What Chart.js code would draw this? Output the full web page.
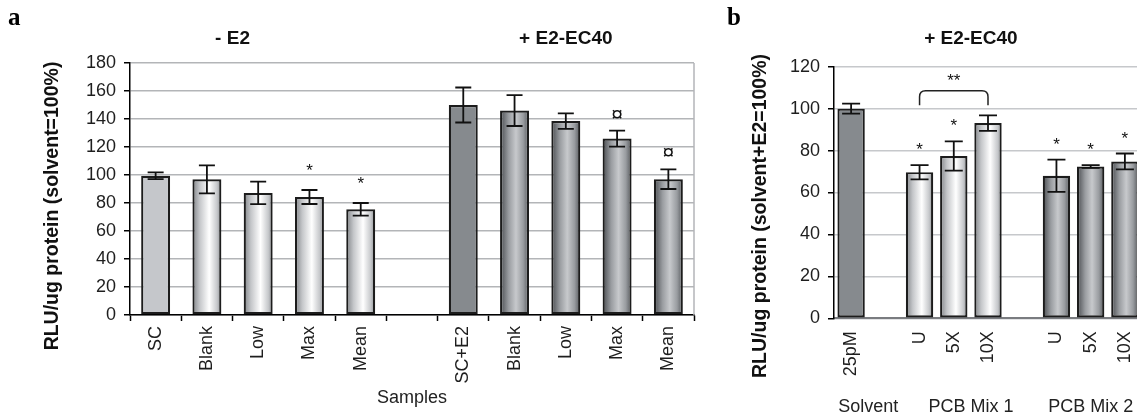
<!DOCTYPE html>
<html><head><meta charset="utf-8">
<script src="https://cdn.jsdelivr.net/npm/chart.js@4.4.1/dist/chart.umd.min.js"></script>
<style>
html,body{margin:0;padding:0;width:1137px;height:418px;overflow:hidden;background:#fff;}
#wa{position:absolute;left:0;top:0;width:720px;height:418px;}
#wb{position:absolute;left:700px;top:0;width:450px;height:418px;}
</style></head><body>
<div id="wa"><canvas id="ca"></canvas></div>
<div id="wb"><canvas id="cb"></canvas></div>
<script>
// ---------- Panel a data ----------
const catsA = ['SC','Blank','Low','Max','Mean','','SC+E2','Blank','Low','Max','Mean'];
const valsA = [99.5, 96.9, 87.2, 84.3, 75.5, null, 150, 146, 138.5, 126, 97];
const errA  = [2.4, 10, 8, 5, 4.5, null, 12.5, 11, 5.5, 5.7, 7];
const sigA  = ['', '', '', '*', '*', '', '', '', '', '¤', '¤'];
const yTicksA = [0, 20, 40, 60, 80, 100, 120, 140, 160, 180];
const titlesA = [{text:'- E2', from:0, to:3}, {text:'+ E2-EC40', from:6, to:10}];

// ---------- Panel b data ----------
const catsB = ['25pM','','U','5X','10X','','U','5X','10X'];
const valsB = [100, null, 69.7, 77.4, 93.1, null, 68, 72.4, 74.8];
const errB  = [2.4, null, 3.4, 7, 3.7, null, 7.7, 0.7, 3.8];
const sigB  = ['', '', '*', '*', '', '', '*', '*', '*'];
const yTicksB = [0, 20, 40, 60, 80, 100, 120];
const titlesB = [{text:'+ E2-EC40', from:2, to:5}];
const groupsB = [{text:'Solvent', from:0, to:1}, {text:'PCB Mix 1', from:2, to:5}, {text:'PCB Mix 2', from:6, to:8}];
const bracketB = {from:2, to:4, low:101.6, high:108.5, text:'**'};

const FONT = "'Liberation Sans', Arial, Helvetica, sans-serif";

function fillFor(kind){
  return (ctx) => {
    const chart = ctx.chart, area = chart.chartArea;
    const k = kind(ctx.dataIndex);
    if (k === 'plainLight') return '#c5c7cb';
    if (k === 'plainDark') return '#868a8e';
    if (!area) return '#aaa';
    const xs = chart.scales.x;
    const x = xs.getPixelForValue(ctx.dataIndex);
    const w = xs.width / chart.data.labels.length * ctx.dataset.barPercentage;
    const g = chart.ctx.createLinearGradient(x - w/2, 0, x + w/2, 0);
    if (k === 'light') {
      g.addColorStop(0, '#808387'); g.addColorStop(0.25, '#c4c6c9');
      g.addColorStop(0.58, '#ffffff'); g.addColorStop(0.85, '#c6c8cb'); g.addColorStop(1, '#8a8d91');
    } else {
      g.addColorStop(0, '#484b4f'); g.addColorStop(0.3, '#9a9da1');
      g.addColorStop(0.55, '#c7c9cc'); g.addColorStop(0.8, '#999ca0'); g.addColorStop(1, '#54575b');
    }
    return g;
  };
}

function centerText(c, text, x, cy, font, color){
  c.save(); c.font = font; c.fillStyle = color || '#111';
  c.textAlign = 'center'; c.textBaseline = 'alphabetic';
  const m = c.measureText(text);
  c.fillText(text, x, cy + (m.actualBoundingBoxAscent - m.actualBoundingBoxDescent)/2);
  c.restore();
}

const extras = {
  id: 'extras',
  beforeDatasetsDraw(chart, args, o){
    const a = chart.chartArea, c = chart.ctx;
    if (o.rightBorder){
      c.save(); c.strokeStyle = o.rightBorder; c.lineWidth = 1.5;
      c.beginPath(); c.moveTo(a.right, a.top); c.lineTo(a.right, a.bottom); c.stroke(); c.restore();
    }
  },
  afterDatasetsDraw(chart, args, o){
    const c = chart.ctx, xs = chart.scales.x, ys = chart.scales.y, a = chart.chartArea;
    const meta = chart.getDatasetMeta(0);
    const vals = chart.data.datasets[0].data;
    // error bars
    c.save(); c.strokeStyle = '#111'; c.lineWidth = o.errWidth;
    vals.forEach((v, i) => {
      const e = o.errors[i]; if (v == null || e == null) return;
      const x = meta.data[i].x;
      const yt = ys.getPixelForValue(v + e), yb = ys.getPixelForValue(v - e);
      c.beginPath();
      c.moveTo(x, yt); c.lineTo(x, yb);
      c.moveTo(x - o.cap, yt); c.lineTo(x + o.cap, yt);
      c.moveTo(x - o.cap, yb); c.lineTo(x + o.cap, yb);
      c.stroke();
    });
    c.restore();
    // significance marks
    vals.forEach((v, i) => {
      const s = o.sig[i]; if (!s || v == null) return;
      const x = meta.data[i].x;
      const yt = ys.getPixelForValue(v + o.errors[i]);
      if (s === '¤') centerText(c, s, x, yt - o.gapCur, "21px " + FONT, '#111');
      else centerText(c, s, x, yt - o.gapStar, "17px " + FONT, '#111');
    });
    // bracket
    if (o.bracket){
      const b = o.bracket;
      const x1 = xs.getPixelForValue(b.from), x2 = xs.getPixelForValue(b.to);
      const yl = ys.getPixelForValue(b.low), yh = ys.getPixelForValue(b.high);
      const r = 6;
      c.save(); c.strokeStyle = '#222'; c.lineWidth = 1.5;
      c.beginPath(); c.moveTo(x1, yl); c.lineTo(x1, yh + r);
      c.quadraticCurveTo(x1, yh, x1 + r, yh); c.lineTo(x2 - r, yh);
      c.quadraticCurveTo(x2, yh, x2, yh + r); c.lineTo(x2, yl); c.stroke(); c.restore();
      centerText(c, b.text, (x1 + x2)/2, yh - 14, "17px " + FONT, '#111');
    }
    // titles
    o.titles.forEach(t => {
      const x = (xs.getPixelForValue(t.from) + xs.getPixelForValue(t.to))/2;
      centerText(c, t.text, x, o.titleY, "bold 19px " + FONT, '#111');
    });
    // group labels
    (o.groups || []).forEach(t => {
      const x = (xs.getPixelForValue(t.from) + xs.getPixelForValue(t.to))/2;
      centerText(c, t.text, x, o.groupY, "18px " + FONT, '#222');
    });
    if (o.xTitle) centerText(c, o.xTitle, (a.left + a.right)/2, o.xTitleY, "18px " + FONT, '#222');
    // y title
    c.save(); c.translate(o.yTitleX, o.yTitleY); c.rotate(-Math.PI/2);
    centerText(c, o.yTitle, 0, 0, "bold 19.5px " + FONT, '#111');
    c.restore();
    // panel letter
    c.save(); c.font = "bold 25px 'Liberation Serif', 'Times New Roman', serif"; c.fillStyle = '#000';
    c.textAlign = 'left'; c.textBaseline = 'alphabetic'; c.fillText(o.letter, o.letterX, 25); c.restore();
  }
};

function makeChart(id, cfg){
  return new Chart(document.getElementById(id), {
    type: 'bar',
    data: { labels: cfg.labels, datasets: [{
      data: cfg.values,
      backgroundColor: fillFor(cfg.kind),
      borderColor: '#1c1c1c', borderWidth: 2.2, borderSkipped: false,
      barPercentage: cfg.barPct, categoryPercentage: 1
    }]},
    options: {
      responsive: true, maintainAspectRatio: false, animation: false,
      devicePixelRatio: 1,
      layout: { padding: { top: cfg.top, right: cfg.right, left: 0, bottom: 0 } },
      plugins: { legend: {display:false}, tooltip: {enabled:false}, title: {display:false},
        extras: cfg.extras },
      scales: {
        x: {
          afterFit: s => { s.height = cfg.xHeight; s.paddingLeft = 0; s.paddingRight = 0; },
          grid: { drawOnChartArea: false, drawTicks: cfg.xTicks, tickLength: 6, tickColor: '#000', offset: true, tickWidth: 1.5 },
          border: { color: cfg.xBorder, width: cfg.xBorderW },
          ticks: { autoSkip: false, maxRotation: 90, minRotation: 90, padding: cfg.xPad,
            font: { family: FONT, size: 18 }, color: '#1e1e1e' }
        },
        y: {
          afterFit: s => { s.width = cfg.yWidth; s.paddingTop = 0; s.paddingBottom = 0; },
          min: cfg.yTicks[0], max: cfg.yTicks[cfg.yTicks.length - 1],
          ticks: { stepSize: cfg.yTicks[1] - cfg.yTicks[0], padding: 8,
            font: { family: FONT, size: 18 }, color: '#1e1e1e' },
          grid: { color: cfg.gridColor, lineWidth: 1.5, tickColor: '#000', tickLength: 6, tickWidth: 1.5 },
          border: { color: '#000', width: 1.5 }
        }
      }
    },
    plugins: [extras]
  });
}

makeChart('ca', {
  labels: catsA, values: valsA, barPct: 0.565,
  kind: i => i === 0 ? 'plainLight' : (i === 6 ? 'plainDark' : (i < 5 ? 'light' : 'dark')),
  top: 63, right: 26, xHeight: 103, yWidth: 130, yTicks: yTicksA,
  xTicks: true, xBorder: '#000', xBorderW: 1.5, xPad: 5, gridColor: '#b3b5b8',
  extras: { errors: errA, sig: sigA, cap: 8, errWidth: 1.8, gapStar: 23, gapCur: 17,
    titles: titlesA, titleY: 37, xTitle: 'Samples', xTitleY: 398,
    yTitle: 'RLU/ug protein (solvent=100%)', yTitleX: 52, yTitleY: 206,
    letter: 'a', letterX: 8, rightBorder: '#b3b5b8' }
});

makeChart('cb', {
  labels: catsB, values: valsB, barPct: 0.80,
  kind: i => i === 0 ? 'plainDark' : (i < 5 ? 'light' : 'dark'),
  top: 66.7, right: 8, xHeight: 99.7, yWidth: 134, yTicks: yTicksB,
  xTicks: false, xBorder: '#7a7c80', xBorderW: 2, xPad: 13, gridColor: '#c6c8cb',
  extras: { errors: errB, sig: sigB, cap: 9, errWidth: 1.8, gapStar: 19, gapCur: 17,
    titles: titlesB, titleY: 37, groups: groupsB, groupY: 405,
    bracket: bracketB,
    yTitle: 'RLU/ug protein (solvent+E2=100%)', yTitleX: 60, yTitleY: 216,
    letter: 'b', letterX: 27 }
});
</script>
</body></html>
